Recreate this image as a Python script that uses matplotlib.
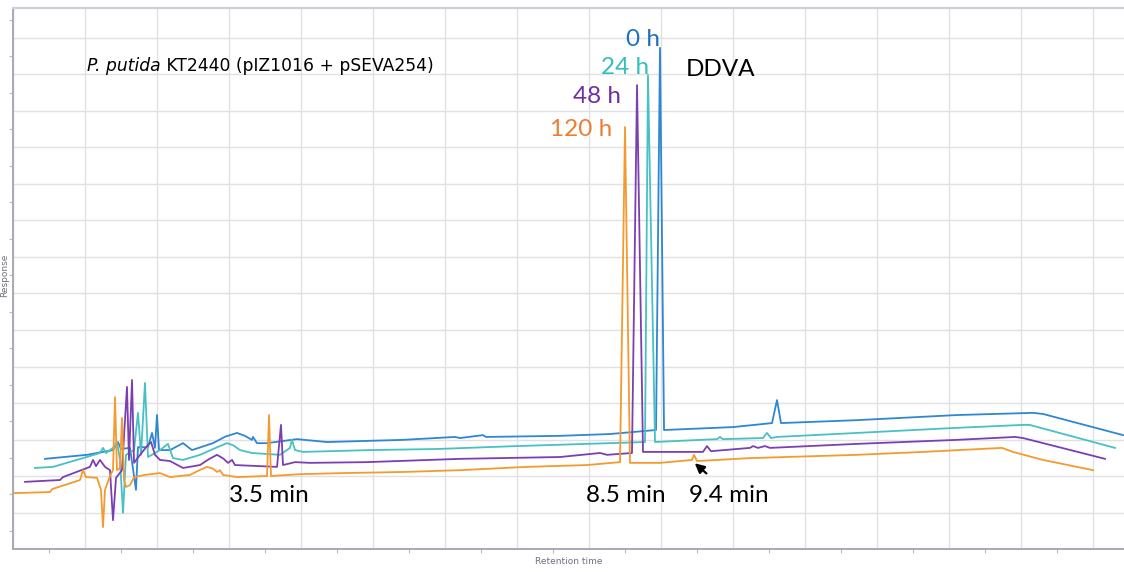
import matplotlib
matplotlib.use("Agg")
import matplotlib.pyplot as plt
from matplotlib.ticker import MultipleLocator

# ---- data (retention time in min, response in arbitrary grid units) ----
t_0h = [0.444, 1.028, 1.389, 1.458, 1.5, 1.625, 1.708, 1.736, 1.875, 1.931, 1.972, 2.0, 2.028,
        2.181, 2.361, 2.486, 2.778, 2.95, 3.111, 3.22, 3.319, 3.333, 3.389, 3.528, 3.944, 4.361,
        5.417, 6.139, 6.208, 6.528, 6.57, 7.597, 8.292, 8.931, 8.986, 9.042, 10.0, 10.542,
        10.611, 10.667, 11.722, 13.111, 14.167, 14.306, 15.417]
r_0h = [2.47, 2.58, 2.71, 2.93, 2.74, 2.77, 1.62, 2.79, 2.79, 3.18, 2.77, 3.67, 2.71,
        2.71, 2.90, 2.71, 2.90, 3.08, 3.18, 3.10, 2.99, 3.07, 2.90, 2.90, 3.01, 2.93,
        2.99, 3.07, 3.04, 3.12, 3.07, 3.10, 3.15, 3.26, 13.73, 3.26, 3.34, 3.45,
        4.08, 3.45, 3.53, 3.67, 3.73, 3.70, 3.12]

t_24h = [0.306, 0.556, 0.972, 1.208, 1.25, 1.292, 1.389, 1.444, 1.486, 1.528, 1.569, 1.681,
         1.736, 1.778, 1.833, 1.875, 2.042, 2.153, 2.222, 2.361, 2.597, 2.85, 2.972, 3.06,
         3.153, 3.319, 3.708, 3.847, 3.875, 3.917, 4.028, 4.958, 5.889, 7.0, 8.292, 8.778,
         8.819, 8.917, 9.542, 9.778, 9.819, 9.86, 10.417, 10.472, 10.528, 10.611, 11.722,
         13.111, 14.028, 14.12, 15.306]
r_24h = [2.22, 2.25, 2.49, 2.63, 2.77, 2.63, 2.77, 2.93, 2.44, 0.99, 2.58, 2.71,
         3.73, 2.58, 4.55, 2.52, 2.71, 2.88, 2.49, 2.44, 2.58, 2.80, 2.90, 2.84,
         2.71, 2.63, 2.58, 2.77, 2.99, 2.71, 2.66, 2.71, 2.74, 2.82, 2.90, 2.93,
         12.99, 2.93, 2.99, 3.01, 3.07, 3.01, 3.04, 3.18, 3.04, 3.07, 3.18,
         3.32, 3.40, 3.40, 2.77]

t_48h = [0.167, 0.653, 0.694, 1.069, 1.111, 1.153, 1.208, 1.278, 1.347, 1.389, 1.431, 1.514,
         1.583, 1.611, 1.653, 1.681, 1.764, 1.875, 1.917, 1.972, 2.042, 2.181, 2.361, 2.597,
         2.72, 2.833, 2.92, 2.986, 3.042, 3.083, 3.667, 3.722, 3.75, 3.917, 4.125, 4.917,
         6.208, 7.597, 8.153, 8.25, 8.597, 8.667, 8.75, 9.403, 9.583, 9.639, 9.694, 10.236,
         10.278, 10.347, 10.444, 10.514, 11.722, 13.111, 13.917, 14.028, 15.167]
r_48h = [1.84, 1.89, 1.97, 2.25, 2.44, 2.27, 2.44, 2.25, 2.16, 0.79, 1.95, 2.16,
         4.44, 2.44, 4.63, 2.36, 2.58, 2.85, 2.93, 2.58, 2.44, 2.41, 2.22, 2.30,
         2.46, 2.58, 2.48, 2.36, 2.44, 2.30, 2.25, 3.40, 2.30, 2.38, 2.36, 2.38,
         2.47, 2.52, 2.63, 2.58, 2.63, 12.71, 2.66, 2.66, 2.66, 2.82, 2.68, 2.77,
         2.82, 2.77, 2.82, 2.77, 2.88, 2.99, 3.07, 3.04, 2.47]

t_120h = [0.0, 0.514, 0.542, 0.931, 0.972, 1.014, 1.167, 1.222, 1.25, 1.278, 1.347, 1.389,
          1.417, 1.444, 1.486, 1.514, 1.542, 1.569, 1.625, 1.681, 1.833, 2.042, 2.181, 2.458,
          2.58, 2.694, 2.78, 2.833, 2.875, 2.917, 3.111, 3.528, 3.556, 3.583, 3.986, 4.583,
          5.417, 6.208, 7.139, 7.972, 8.431, 8.5, 8.569, 8.986, 9.431, 9.458, 9.5, 9.778,
          10.236, 11.722, 12.639, 13.736, 13.889, 14.306, 15.0]
r_120h = [1.53, 1.56, 1.64, 1.89, 2.16, 1.97, 1.95, 1.62, 0.60, 1.62, 2.00, 2.16,
          4.16, 2.16, 2.22, 3.59, 1.89, 1.70, 1.75, 1.97, 2.03, 2.08, 1.97, 2.03,
          2.15, 2.25, 2.20, 2.11, 2.16, 2.03, 1.97, 2.00, 3.67, 2.00, 2.05, 2.08,
          2.11, 2.16, 2.25, 2.30, 2.38, 11.56, 2.36, 2.36, 2.44, 2.58, 2.41, 2.44,
          2.49, 2.58, 2.66, 2.77, 2.66, 2.44, 2.16]

series_labels = ["0 h", "24 h", "48 h", "120 h"]
annot_labels = ["3.5 min", "8.5 min", "9.4 min"]
title_italic = "P. putida"
title_rest = " KT2440 (pIZ1016 + pSEVA254)"

# ---- styling ----
line_colors = ["#2f86d2", "#47c1c3", "#7b3fb3", "#f59a2e"]
text_colors = ["#1f6fbf", "#33bfc0", "#7030a0", "#ed7d31"]

fig = plt.figure(figsize=(11.24, 5.72), dpi=100)
ax = fig.add_axes([13/1124, 23/572, 1 - 13/1124, 541/572])
ax.set_xlim(0, 1111/72)
ax.set_ylim(0, 541/36.5)

ax.xaxis.set_major_locator(MultipleLocator(1))
ax.yaxis.set_major_locator(MultipleLocator(1))
ax.xaxis.set_minor_locator(MultipleLocator(0.5))
ax.yaxis.set_minor_locator(MultipleLocator(0.5))
ax.grid(True, which="major", color="#e0e0e5", lw=1.0)
ax.set_axisbelow(True)
ax.tick_params(which="major", length=0, labelbottom=False, labelleft=False)
ax.tick_params(which="minor", length=3, color="#b8b8c4", width=0.8)
for s in ["left", "bottom"]:
    ax.spines[s].set_color("#a8a8b8")
    ax.spines[s].set_linewidth(1.4)
ax.spines["top"].set_color("#cfcfd8")
ax.spines["top"].set_linewidth(1.6)
ax.spines["right"].set_visible(False)

traces = [(t_0h, r_0h), (t_24h, r_24h), (t_48h, r_48h), (t_120h, r_120h)]
for (tt, rr), c in zip(traces, line_colors):
    ax.plot(tt, rr, color=c, lw=1.3, solid_joinstyle="round", zorder=3)

lab_font = "Lato"
ax.text(8.75, 13.97, series_labels[0], color=text_colors[0], fontsize=17.5, family=lab_font,
        ha="center", va="center")
ax.text(8.50, 13.20, series_labels[1], color=text_colors[1], fontsize=17.5, family=lab_font,
        ha="center", va="center")
ax.text(8.11, 12.41, series_labels[2], color=text_colors[2], fontsize=17.5, family=lab_font,
        ha="center", va="center")
ax.text(7.89, 11.48, series_labels[3], color=text_colors[3], fontsize=17.5, family=lab_font,
        ha="center", va="center")
ax.text(9.83, 13.15, "DDVA", color="black", fontsize=17.5, family=lab_font,
        ha="center", va="center")

for lbl, tx in zip(annot_labels, [3.556, 8.51, 9.94]):
    ax.text(tx, 1.47, lbl, color="black", fontsize=17.5, family=lab_font,
            ha="center", va="center")

ax.annotate("", xy=(9.44, 2.40), xytext=(9.66, 2.02),
            arrowprops=dict(arrowstyle="-|>", color="black", lw=1.6, mutation_scale=14))

t1 = ax.text(1.028, 13.23, title_italic, fontsize=12.3, style="italic", ha="left", va="center")
fig.canvas.draw()
bb = t1.get_window_extent()
inv = ax.transData.inverted()
x_end = inv.transform((bb.x1, bb.y0))[0]
ax.text(x_end, 13.23, title_rest, fontsize=12.3, ha="left", va="center")

fig.text(5/1124, 1 - 275/572, "Response", rotation=90, fontsize=6.5, color="#707080",
         ha="center", va="center")
fig.text(569/1124, 1 - 562/572, "Retention time", fontsize=6.5, color="#707080",
         ha="center", va="center")

fig.savefig("out.png", dpi=100)
